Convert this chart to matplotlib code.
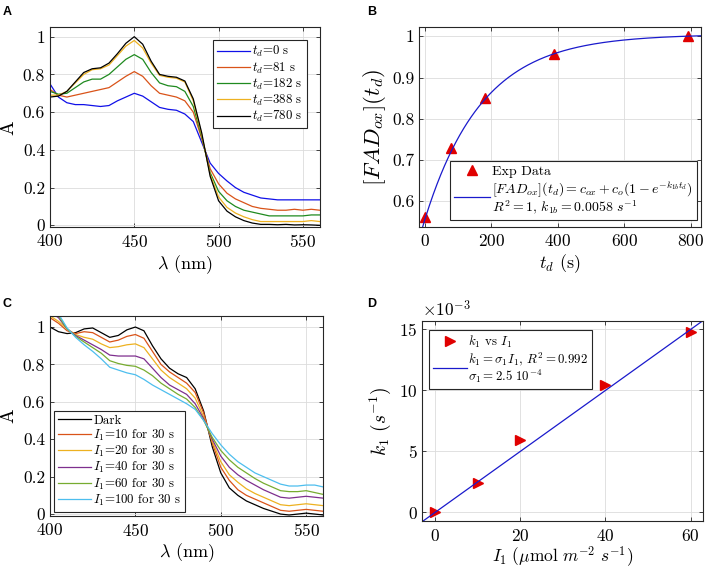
import numpy as np
import matplotlib
matplotlib.use('Agg')
import matplotlib.pyplot as plt
from matplotlib.ticker import FuncFormatter

plt.rcParams['font.family'] = 'serif'
plt.rcParams['font.serif'] = ['cmr10']
plt.rcParams['mathtext.fontset'] = 'cm'
plt.rcParams['axes.formatter.use_mathtext'] = True

# ---- panel A: spectra during dark recovery ----
wl = np.arange(400, 561, 5)
td_labels = ['0', '81', '182', '388', '780']
spec_td0 = [0.75, 0.68, 0.65, 0.64, 0.64, 0.635, 0.63, 0.635, 0.66, 0.68, 0.70, 0.685, 0.655,
            0.625, 0.615, 0.61, 0.59, 0.55, 0.44, 0.33, 0.275, 0.235, 0.20, 0.175, 0.16, 0.145,
            0.14, 0.135, 0.135, 0.135, 0.135, 0.135, 0.135]
spec_td81 = [0.72, 0.69, 0.68, 0.69, 0.70, 0.71, 0.72, 0.73, 0.76, 0.79, 0.815, 0.79, 0.74,
             0.70, 0.69, 0.68, 0.66, 0.60, 0.46, 0.30, 0.22, 0.17, 0.14, 0.12, 0.10, 0.09,
             0.085, 0.08, 0.08, 0.085, 0.08, 0.085, 0.08]
spec_td182 = [0.71, 0.695, 0.70, 0.73, 0.76, 0.775, 0.775, 0.80, 0.84, 0.88, 0.905, 0.88, 0.81,
              0.755, 0.74, 0.735, 0.71, 0.63, 0.47, 0.28, 0.18, 0.13, 0.10, 0.08, 0.07, 0.06,
              0.05, 0.05, 0.05, 0.05, 0.05, 0.055, 0.055]
spec_td388 = [0.69, 0.69, 0.71, 0.755, 0.80, 0.825, 0.83, 0.85, 0.90, 0.95, 0.98, 0.94, 0.86,
              0.795, 0.785, 0.78, 0.76, 0.66, 0.48, 0.27, 0.15, 0.095, 0.065, 0.045, 0.03, 0.02,
              0.02, 0.02, 0.02, 0.02, 0.02, 0.025, 0.02]
spec_td780 = [0.68, 0.685, 0.71, 0.76, 0.81, 0.83, 0.835, 0.86, 0.91, 0.965, 1.0, 0.96, 0.87,
              0.80, 0.79, 0.785, 0.765, 0.67, 0.49, 0.26, 0.13, 0.075, 0.045, 0.025, 0.012, 0.005,
              0.005, 0.003, 0.005, 0.002, 0.003, 0.002, 0.0]

# ---- panel B: oxidised FAD recovery ----
td_pts = [2, 80, 182, 388, 790]
fad_pts = [0.562, 0.73, 0.85, 0.958, 1.0]
c_ox, c_o, k1b = 0.555, 0.45, 0.0058

# ---- panel C: spectra after light pulses ----
I1_labels = ['10', '20', '40', '60', '100']
spec_dark = [1.0, 0.975, 0.965, 0.97, 0.99, 0.995, 0.97, 0.945, 0.955, 0.985, 1.0, 0.98, 0.90,
             0.83, 0.78, 0.75, 0.73, 0.67, 0.55, 0.36, 0.22, 0.14, 0.10, 0.07, 0.05, 0.03,
             0.015, 0.0, -0.005, 0.0, 0.005, 0.0, -0.005]
spec_I10 = [1.05, 1.02, 0.98, 0.965, 0.975, 0.97, 0.945, 0.92, 0.93, 0.95, 0.96, 0.94, 0.87,
            0.80, 0.76, 0.73, 0.70, 0.65, 0.54, 0.38, 0.25, 0.18, 0.13, 0.10, 0.08, 0.06,
            0.04, 0.02, 0.015, 0.02, 0.025, 0.02, 0.015]
spec_I20 = [1.06, 1.03, 0.99, 0.96, 0.945, 0.935, 0.91, 0.89, 0.895, 0.905, 0.91, 0.89, 0.83,
            0.77, 0.73, 0.70, 0.67, 0.62, 0.52, 0.39, 0.28, 0.21, 0.17, 0.135, 0.11, 0.09,
            0.07, 0.05, 0.045, 0.05, 0.055, 0.05, 0.045]
spec_I40 = [1.08, 1.05, 0.99, 0.955, 0.93, 0.905, 0.88, 0.85, 0.845, 0.845, 0.845, 0.83, 0.78,
            0.73, 0.69, 0.665, 0.64, 0.59, 0.51, 0.40, 0.31, 0.25, 0.21, 0.18, 0.155, 0.13,
            0.11, 0.09, 0.085, 0.09, 0.095, 0.09, 0.085]
spec_I60 = [1.09, 1.06, 0.99, 0.95, 0.92, 0.89, 0.86, 0.82, 0.805, 0.795, 0.79, 0.77, 0.74,
            0.70, 0.67, 0.64, 0.615, 0.57, 0.50, 0.41, 0.34, 0.29, 0.25, 0.22, 0.19, 0.165,
            0.145, 0.125, 0.12, 0.12, 0.125, 0.115, 0.105]
spec_I100 = [1.10, 1.07, 0.995, 0.945, 0.905, 0.87, 0.83, 0.785, 0.77, 0.755, 0.745, 0.72, 0.69,
             0.665, 0.64, 0.615, 0.59, 0.56, 0.50, 0.43, 0.37, 0.32, 0.28, 0.25, 0.22, 0.20,
             0.18, 0.16, 0.15, 0.15, 0.155, 0.155, 0.145]

# ---- panel D: k1 vs light intensity ----
I1_pts = [0, 10, 20, 40, 60]
k1_pts = [0.0, 2.45e-3, 5.95e-3, 10.45e-3, 14.8e-3]
sigma1 = 2.5e-4

fig = plt.figure(figsize=(7.08, 5.68), dpi=100)
axA = fig.add_axes([0.0706, 0.600, 0.381, 0.352])
axB = fig.add_axes([0.592, 0.600, 0.398, 0.352])
axC = fig.add_axes([0.0706, 0.092, 0.386, 0.351])
axD = fig.add_axes([0.5965, 0.082, 0.397, 0.353])

gfmt = FuncFormatter(lambda v, p: '%g' % round(v, 6))


def style(ax):
    ax.grid(True, color='#dcdcdc', linewidth=0.6)
    ax.set_axisbelow(True)
    ax.tick_params(direction='in', top=True, right=True, length=3, width=0.6,
                   labelsize=12.5, color='#262626')
    ax.tick_params(axis='x', pad=4.5)
    for s in ax.spines.values():
        s.set_linewidth(0.8)
        s.set_color('#262626')


def legend(ax, fs=9.3, **kw):
    lg = ax.legend(fontsize=fs, fancybox=False, framealpha=1, edgecolor='#262626',
                   handlelength=2.6, handletextpad=0.15, labelspacing=0.08,
                   borderaxespad=0, borderpad=0.3, **kw)
    lg.get_frame().set_linewidth(0.8)
    for t in lg.get_texts():
        t.set_linespacing(0.95)
    return lg


# A
colsA = ['#1010e8', '#D95319', '#1f8a1f', '#EDB120', '#000000']
for spec, lab, c in zip([spec_td0, spec_td81, spec_td182, spec_td388, spec_td780], td_labels, colsA):
    axA.plot(wl, spec, color=c, lw=0.9, label='$t_d$=%s s' % lab)
axA.set_xlim(400, 560)
axA.set_ylim(-0.01, 1.05)
axA.set_xticks([400, 450, 500, 550])
axA.set_yticks([0, 0.2, 0.4, 0.6, 0.8, 1])
axA.yaxis.set_major_formatter(gfmt)
axA.set_xlabel(r'$\lambda$ (nm)', fontsize=13, labelpad=2)
axA.set_ylabel('A', fontsize=14, labelpad=4)
style(axA)
legend(axA, loc='upper left', bbox_to_anchor=(0.604, 0.935))

# B
tt = np.linspace(-20, 830, 300)
axB.plot(td_pts, fad_pts, '^', color='#e00000', ms=7, ls='none', label='Exp Data')
axB.plot(tt, c_ox + c_o * (1 - np.exp(-k1b * tt)), color='#1a1acc', lw=0.9,
         label='$[FAD_{ox}](t_d) = c_{ox} + c_o(1-e^{-k_{1b}t_d})$\n'
               '$R^2 = 1$, $k_{1b} = 0.0058\\ s^{-1}$')
axB.set_xlim(-17, 830)
axB.set_ylim(0.537, 1.022)
axB.set_xticks([0, 200, 400, 600, 800])
axB.set_yticks([0.6, 0.7, 0.8, 0.9, 1.0])
axB.yaxis.set_major_formatter(gfmt)
axB.set_xlabel('$t_d$ (s)', fontsize=13, labelpad=2)
axB.set_ylabel('$[FAD_{ox}](t_d)$', fontsize=16.5, labelpad=3)
style(axB)
legend(axB, fs=10, loc='lower right', bbox_to_anchor=(0.986, 0.035))

# C
colsC = ['#000000', '#D95319', '#EDB120', '#7E2F8E', '#77AC30', '#4DBEEE']
specsC = [spec_dark, spec_I10, spec_I20, spec_I40, spec_I60, spec_I100]
labsC = ['Dark'] + ['$I_1$=%s for 30 s' % v for v in I1_labels]
for spec, lab, c in zip(specsC, labsC, colsC):
    axC.plot(wl, spec, color=c, lw=0.9, label=lab)
axC.set_xlim(400, 560)
axC.set_ylim(-0.009, 1.057)
axC.set_xticks([400, 450, 500, 550])
axC.set_yticks([0, 0.2, 0.4, 0.6, 0.8, 1])
axC.yaxis.set_major_formatter(gfmt)
axC.set_xlabel(r'$\lambda$ (nm)', fontsize=13, labelpad=2)
axC.set_ylabel('A', fontsize=14, labelpad=4)
style(axC)
legend(axC, loc='lower left', bbox_to_anchor=(0.0147, 0.02))

# D
xx = np.array([-3, 63])
axD.plot(I1_pts, k1_pts, '>', color='#e00000', ms=7, ls='none', label='$k_1$ vs $I_1$')
axD.plot(xx, sigma1 * xx, color='#1a1acc', lw=0.9,
         label='$k_1 = \\sigma_1 I_1$, $R^2 = 0.992$\n$\\sigma_1 = 2.5\\ 10^{-4}$')
axD.set_xlim(-3, 63)
axD.set_ylim(-0.74e-3, 15.7e-3)
axD.set_xticks([0, 20, 40, 60])
axD.set_yticks([0, 0.005, 0.010, 0.015])
axD.ticklabel_format(axis='y', style='sci', scilimits=(-3, -3))
axD.yaxis.get_offset_text().set_fontsize(12.5)
axD.set_xlabel(r'$I_1\ (\mu\mathrm{mol}\ m^{-2}\ s^{-1})$', fontsize=12.5, labelpad=0)
axD.set_ylabel('$k_1$ $(s^{-1})$', fontsize=14, labelpad=4)
style(axD)
legend(axD, fs=9.3, loc='upper left', bbox_to_anchor=(0.024, 0.955))

for lab, x, y in [('A', 0.004, 0.99), ('B', 0.518, 0.99), ('C', 0.004, 0.475), ('D', 0.518, 0.475)]:
    fig.text(x, y, lab, family='Liberation Sans', weight='bold', fontsize=9, va='top', ha='left')

fig.savefig('out.png', dpi=100)
